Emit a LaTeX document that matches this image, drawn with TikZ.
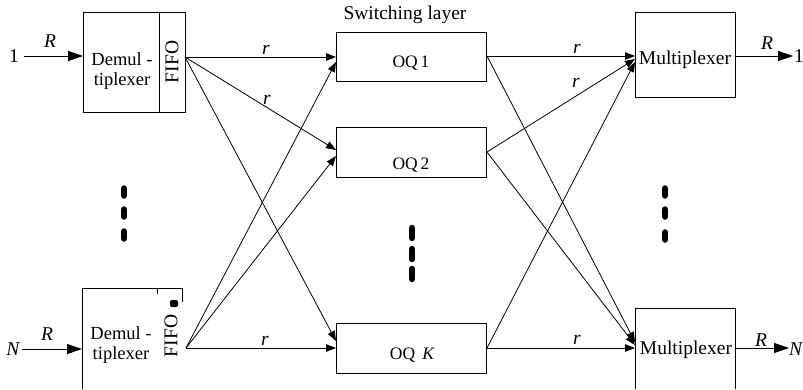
\documentclass[tikz,border=0pt]{standalone}
\usepackage{fontspec}
\setmainfont{Liberation Serif}
\usetikzlibrary{arrows.meta}
\begin{document}
\begin{tikzpicture}[x=1pt,y=-1pt,line width=0.9pt,
  box/.style={draw,rectangle,inner sep=0pt,anchor=north west},
  txt/.style={inner sep=0pt,font=\fontsize{19.5}{17}\selectfont,align=center},
  dtxt/.style={inner sep=0pt,font=\fontsize{18.5}{17}\selectfont,anchor=base},
  oqtxt/.style={inner sep=0pt,font=\fontsize{17.5}{19}\selectfont},
  arr/.style={-{Triangle[length=15pt,width=10pt]}},
  farr/.style={-{Triangle[length=10pt,width=7.5pt]},line width=0.8pt},
  dots/.style={line width=6.5pt,line cap=round}]
\useasboundingbox (0,0) rectangle (803,389);

% demultiplexers
\node[box,minimum width=102pt,minimum height=100pt] (d1) at (83,12) {};
\draw (159,12) -- (159,112);
\node[dtxt] (d1t) at (122,65) {Demul -};
\node[dtxt] (d1u) at (122,85.5) {tiplexer};
\node[txt,rotate=90] (d1f) at (172,62) {FIFO};

\coordinate (dNtl) at (82,288);
\coordinate (dNtr) at (182,288);
\coordinate (dNbl) at (82,389);
\draw (dNbl) -- (dNtl) -- (dNtr) -- (182,302);
\draw (157,288) -- (157,294);
\node[fill=black,rounded corners=2pt,minimum width=8pt,minimum height=7pt,inner sep=0pt] (blob) at (174,303.5) {};
\node[dtxt] (dNt) at (121,339) {Demul -};
\node[dtxt] (dNu) at (121,359.5) {tiplexer};
\node[txt,rotate=90] (dNf) at (171,336) {FIFO};

% inputs
\node[txt] (in1) at (14,56) {1};
\node[txt] (inN) at (13,349) {\itshape N};
\coordinate (in1s) at (24,56);
\coordinate (inNs) at (22,349);
\coordinate (d1in) at (83,56);
\coordinate (dNin) at (82,349);
\draw[arr] (in1s) -- (d1in);
\draw[arr] (inNs) -- (dNin);
\node[txt] (R1) at (50,41) {\itshape R};
\node[txt] (R2) at (47,334) {\itshape R};

% OQ boxes
\node[txt] (sw) at (405,15) {Switching layer};
\node[box,minimum width=150pt,minimum height=49pt] (q1) at (336,32) {};
\node[box,minimum width=150pt,minimum height=50pt] (q2) at (336,127) {};
\node[box,minimum width=150pt,minimum height=50pt] (qK) at (336,323) {};
\node[oqtxt] (q1t) at (411,63) {OQ\,1};
\node[oqtxt] (q2t) at (411,165) {OQ\,2};
\node[oqtxt] (qKt) at (412,355) {OQ\, \itshape K};

% fan-out points
\coordinate (f1) at (185,57);
\coordinate (fN) at (186,348);
\coordinate (q1a) at (336,57);
\coordinate (q1b) at (336,62);
\coordinate (q2a) at (336,150);
\coordinate (q2b) at (336,156);
\coordinate (qKa) at (336,341);
\coordinate (qKb) at (336,348);
\draw[farr] (f1) -- (q1a);
\draw[farr] (f1) -- (q2a);
\draw[farr] (f1) -- (qKa);
\draw[farr] (fN) -- (q1b);
\draw[farr] (fN) -- (q2b);
\draw[farr] (fN) -- (qKb);

% multiplexers
\node[box,minimum width=100pt,minimum height=85pt] (m1) at (635,12) {};
\coordinate (mNtl) at (635,308);
\coordinate (mNtr) at (735,308);
\draw (635,389) -- (mNtl) -- (mNtr) -- (735,389);
\node[txt] (m1t) at (685,60) {Multiplexer};
\node[txt] (mNt) at (686,350) {Multiplexer};

\coordinate (o1) at (487,56);
\coordinate (o2) at (487,152);
\coordinate (oK) at (487,348);
\coordinate (m1a) at (635,56);
\coordinate (m1b) at (635,59);
\coordinate (m1c) at (635,62);
\coordinate (mNa) at (635,342);
\coordinate (mNb) at (635,345);
\coordinate (mNc) at (635,348);
\draw[farr] (o1) -- (m1a);
\draw[farr] (o2) -- (m1b);
\draw[farr] (oK) -- (m1c);
\draw[farr] (o1) -- (mNa);
\draw[farr] (o2) -- (mNb);
\draw[farr] (oK) -- (mNc);

% outputs
\node[txt] (out1) at (799,56) {1};
\node[txt,anchor=east] (outN) at (802.5,349) {\itshape N};
\coordinate (m1out) at (735,56);
\coordinate (mNout) at (735,348);
\coordinate (out1e) at (793,56);
\coordinate (outNe) at (789,348);
\draw[arr] (m1out) -- (out1e);
\draw[arr] (mNout) -- (outNe);
\node[txt] (R3) at (767,43) {\itshape R};
\node[txt] (R4) at (761,340) {\itshape R};

% r labels
\node[txt] (r1) at (266,50) {\itshape r};
\node[txt] (r2) at (267,100) {\itshape r};
\node[txt] (r3) at (265,341) {\itshape r};
\node[txt] (r4) at (577,49) {\itshape r};
\node[txt] (r5) at (576,83) {\itshape r};
\node[txt] (r6) at (577,340) {\itshape r};

% dots
\foreach \yy in {192,213,235} {\draw[dots] (124,\yy-3.5) -- (124,\yy+3.5);}
\foreach \yy in {233,254,274} {\draw[dots] (412,\yy-5) -- (412,\yy+5);}
\foreach \yy in {192,213,236} {\draw[dots] (665,\yy-3.5) -- (665,\yy+3.5);}
\end{tikzpicture}
\end{document}
